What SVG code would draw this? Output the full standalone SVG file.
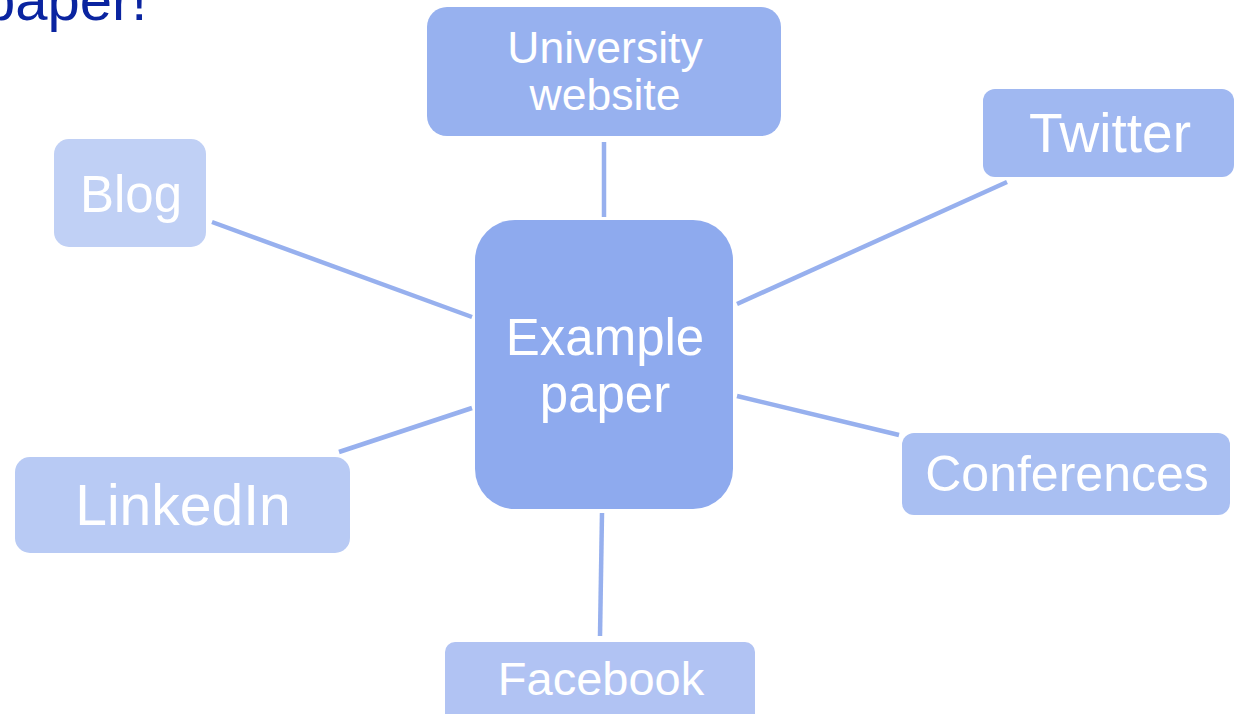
<svg xmlns="http://www.w3.org/2000/svg" width="1239" height="714" viewBox="0 0 1239 714">
<style>
  .lbl { font-family: "Liberation Sans", Arial, sans-serif; fill: #ffffff; text-anchor: middle; }
  .conn { stroke: #97B0EE; stroke-width: 4.5; fill: none; }
  .title { font-family: "Liberation Sans", Arial, sans-serif; fill: #0A24A0; font-size: 58px; }
</style>
<rect x="0" y="0" width="1239" height="714" fill="#ffffff"/>
<text class="title" x="-17" y="20">paper!</text>
<g id="connectors">
  <line class="conn" x1="604" y1="142" x2="604" y2="217"/>
  <line class="conn" x1="602" y1="513" x2="600" y2="636"/>
  <line class="conn" x1="212" y1="222" x2="472" y2="317"/>
  <line class="conn" x1="472" y1="408" x2="339" y2="452"/>
  <line class="conn" x1="737" y1="304" x2="1007" y2="182"/>
  <line class="conn" x1="737" y1="396" x2="899" y2="435"/>
</g>
<g id="node-center">
  <rect x="475" y="220" width="258" height="289" rx="40" fill="#8EAAEE"/>
  <text class="lbl" x="605" y="355" font-size="51">Example</text>
  <text class="lbl" x="605" y="412" font-size="51">paper</text>
</g>
<g id="node-university">
  <rect x="427" y="7" width="354" height="129" rx="20" fill="#97B1EF"/>
  <text class="lbl" x="605" y="63" font-size="44.5">University</text>
  <text class="lbl" x="605" y="110" font-size="44.5">website</text>
</g>
<g id="node-twitter">
  <rect x="983" y="89" width="251" height="88" rx="12" fill="#A0B8F1"/>
  <text class="lbl" x="1110" y="152" font-size="55">Twitter</text>
</g>
<g id="node-blog">
  <rect x="54" y="139" width="152" height="108" rx="15" fill="#C0D0F5"/>
  <text class="lbl" x="131" y="212" font-size="51">Blog</text>
</g>
<g id="node-linkedin">
  <rect x="15" y="457" width="335" height="96" rx="15" fill="#B8CAF4"/>
  <text class="lbl" x="183" y="525" font-size="57">LinkedIn</text>
</g>
<g id="node-conferences">
  <rect x="902" y="433" width="328" height="82" rx="12" fill="#A9BFF2"/>
  <text class="lbl" x="1067" y="491" font-size="50">Conferences</text>
</g>
<g id="node-facebook">
  <rect x="445" y="642" width="310" height="90" rx="10" fill="#B1C3F3"/>
  <text class="lbl" x="601" y="695" font-size="47">Facebook</text>
</g>
</svg>
